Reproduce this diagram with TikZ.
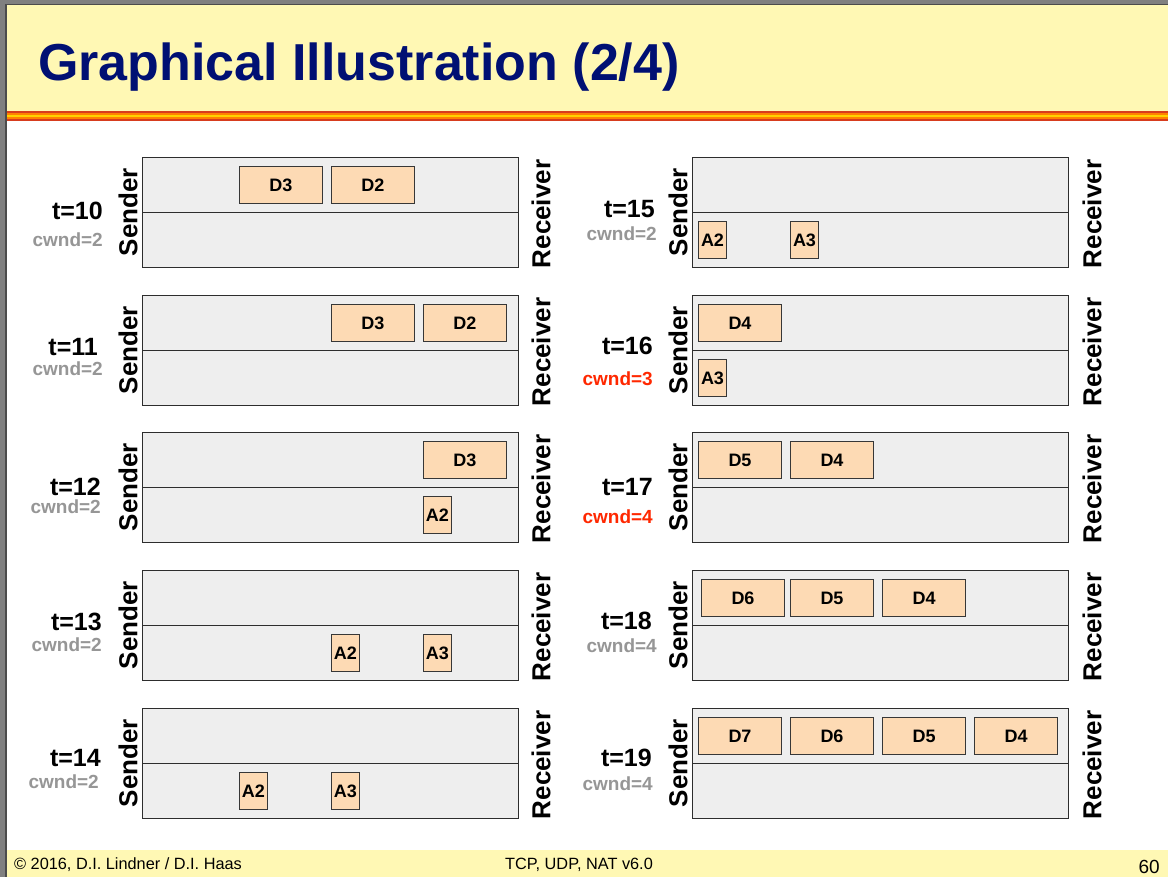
\documentclass[tikz,border=0pt]{standalone}
\usepackage{fontspec}
\setmainfont{Liberation Sans}
\definecolor{hdr}{RGB}{255,248,180}
\definecolor{titleblue}{RGB}{0,16,115}
\definecolor{panelfill}{RGB}{238,238,238}
\definecolor{panelline}{RGB}{45,45,45}
\definecolor{pkt}{RGB}{253,218,180}
\definecolor{pktline}{RGB}{55,55,55}
\definecolor{cwgray}{RGB}{150,150,150}
\definecolor{cwred}{RGB}{255,40,0}
\definecolor{framegray}{RGB}{128,128,128}
\definecolor{stripered}{RGB}{215,60,30}
\definecolor{stripeorange}{RGB}{255,130,0}
\definecolor{stripeyellow}{RGB}{255,210,0}
\begin{document}
\begin{tikzpicture}[x=1pt,y=-1pt,
  panel/.style={draw=panelline, fill=panelfill, line width=1.3pt, minimum width=376pt, minimum height=110pt, inner sep=0pt, anchor=north west},
  midline/.style={draw=panelline, line width=1.3pt},
  data/.style={draw=pktline, fill=pkt, line width=1pt, minimum width=83pt, minimum height=37pt, inner sep=0pt, anchor=north west, font=\bfseries\fontsize{18}{18}\selectfont},
  ack/.style={data, minimum width=28pt},
  tlabel/.style={anchor=east, inner sep=0pt, font=\bfseries\fontsize{25}{25}\selectfont},
  cwlabel/.style={anchor=east, inner sep=0pt, text=cwgray, font=\bfseries\fontsize{19}{19}\selectfont},
  cwalert/.style={cwlabel, text=cwred},
  side/.style={rotate=90, inner sep=0pt, font=\bfseries\fontsize{26}{26}\selectfont},
  foot/.style={inner sep=0pt, font=\fontsize{16.3}{16.3}\selectfont}
]
\useasboundingbox (0,0) rectangle (1168,877);
\fill[white] (0,0) rectangle (1168,877);
% header
\fill[hdr] (0,0) rectangle (1168,112);
\fill[stripered] (0,111) rectangle (1168,113.5);
\fill[stripeorange] (0,113.5) rectangle (1168,115.5);
\fill[stripeyellow] (0,115.5) rectangle (1168,117);
\fill[stripeorange] (0,117) rectangle (1168,119);
\fill[stripered] (0,119) rectangle (1168,121);
% footer
\fill[hdr] (0,850) rectangle (1168,877);
% frame
\fill[framegray] (0,0) rectangle (1168,4);
\fill[black!70] (0,4) rectangle (1168,5.5);
\fill[framegray] (0,0) rectangle (5,877);
\fill[black!70] (5,4) rectangle (7,877);

\node[anchor=base west, inner sep=0pt, text=titleblue, font=\bfseries\fontsize{52}{52}\selectfont] (title) at (38,81) {Graphical Illustration (2/4)};

% ---------- left column ----------
\node[panel] (p10) at (142,157) {};
\draw[midline] (p10.west) -- (p10.east);
\node[panel] (p11) at (142,295) {};
\draw[midline] (p11.west) -- (p11.east);
\node[panel] (p12) at (142,432) {};
\draw[midline] (p12.west) -- (p12.east);
\node[panel] (p13) at (142,570) {};
\draw[midline] (p13.west) -- (p13.east);
\node[panel] (p14) at (142,708) {};
\draw[midline] (p14.west) -- (p14.east);
% ---------- right column ----------
\node[panel] (p15) at (692,157) {};
\draw[midline] (p15.west) -- (p15.east);
\node[panel] (p16) at (692,295) {};
\draw[midline] (p16.west) -- (p16.east);
\node[panel] (p17) at (692,432) {};
\draw[midline] (p17.west) -- (p17.east);
\node[panel] (p18) at (692,570) {};
\draw[midline] (p18.west) -- (p18.east);
\node[panel] (p19) at (692,708) {};
\draw[midline] (p19.west) -- (p19.east);

% packets
\node[data] (d10a) at (239,166) {D3};
\node[data] (d10b) at (331,166) {D2};
\node[data] (d11a) at (331,304) {D3};
\node[data] (d11b) at (423,304) {D2};
\node[data] (d12a) at (423,441) {D3};
\node[ack]  (a12a) at (423,496) {A2};
\node[ack]  (a13a) at (331,634) {A2};
\node[ack]  (a13b) at (423,634) {A3};
\node[ack]  (a14a) at (239,772) {A2};
\node[ack]  (a14b) at (331,772) {A3};
\node[ack]  (a15a) at (698,221) {A2};
\node[ack]  (a15b) at (790,221) {A3};
\node[data] (d16a) at (698,304) {D4};
\node[ack]  (a16a) at (698,359) {A3};
\node[data] (d17a) at (698,441) {D5};
\node[data] (d17b) at (790,441) {D4};
\node[data] (d18a) at (701,579) {D6};
\node[data] (d18b) at (790,579) {D5};
\node[data] (d18c) at (882,579) {D4};
\node[data] (d19a) at (698,717) {D7};
\node[data] (d19b) at (790,717) {D6};
\node[data] (d19c) at (882,717) {D5};
\node[data] (d19d) at (974,717) {D4};

% time / cwnd labels
\node[tlabel] (t10) at (103,211) {t=10};
\node[cwlabel] (c10) at (103,240) {cwnd=2};
\node[tlabel] (t11) at (98,347) {t=11};
\node[cwlabel] (c11) at (103,369) {cwnd=2};
\node[tlabel] (t12) at (101,487) {t=12};
\node[cwlabel] (c12) at (101,507) {cwnd=2};
\node[tlabel] (t13) at (102,622) {t=13};
\node[cwlabel] (c13) at (102,645) {cwnd=2};
\node[tlabel] (t14) at (101,758) {t=14};
\node[cwlabel] (c14) at (99,782) {cwnd=2};
\node[tlabel] (t15) at (655,209) {t=15};
\node[cwlabel] (c15) at (657,234) {cwnd=2};
\node[tlabel] (t16) at (653,346) {t=16};
\node[cwalert] (c16) at (653,379) {cwnd=3};
\node[tlabel] (t17) at (653,487) {t=17};
\node[cwalert] (c17) at (653,517) {cwnd=4};
\node[tlabel] (t18) at (652,621) {t=18};
\node[cwlabel] (c18) at (657,646) {cwnd=4};
\node[tlabel] (t19) at (652,758) {t=19};
\node[cwlabel] (c19) at (653,784) {cwnd=4};

% sender / receiver labels
\node[side] (s10) at (128,212) {Sender};
\node[side] (r10) at (541,214) {Receiver};
\node[side] (s11) at (128,350) {Sender};
\node[side] (r11) at (541,352) {Receiver};
\node[side] (s12) at (128,487) {Sender};
\node[side] (r12) at (541,489) {Receiver};
\node[side] (s13) at (128,625) {Sender};
\node[side] (r13) at (541,627) {Receiver};
\node[side] (s14) at (128,763) {Sender};
\node[side] (r14) at (541,765) {Receiver};
\node[side] (s15) at (678,212) {Sender};
\node[side] (r15) at (1092,214) {Receiver};
\node[side] (s16) at (678,350) {Sender};
\node[side] (r16) at (1092,352) {Receiver};
\node[side] (s17) at (678,487) {Sender};
\node[side] (r17) at (1092,489) {Receiver};
\node[side] (s18) at (678,625) {Sender};
\node[side] (r18) at (1092,627) {Receiver};
\node[side] (s19) at (678,763) {Sender};
\node[side] (r19) at (1092,765) {Receiver};

% footer texts
\node[foot, anchor=west] (f1) at (14,865) {© 2016, D.I. Lindner / D.I. Haas};
\node[foot] (f2) at (579,865) {TCP, UDP, NAT v6.0};
\node[foot, anchor=east, font=\fontsize{19}{19}\selectfont] (f3) at (1160,867) {60};
\end{tikzpicture}
\end{document}
